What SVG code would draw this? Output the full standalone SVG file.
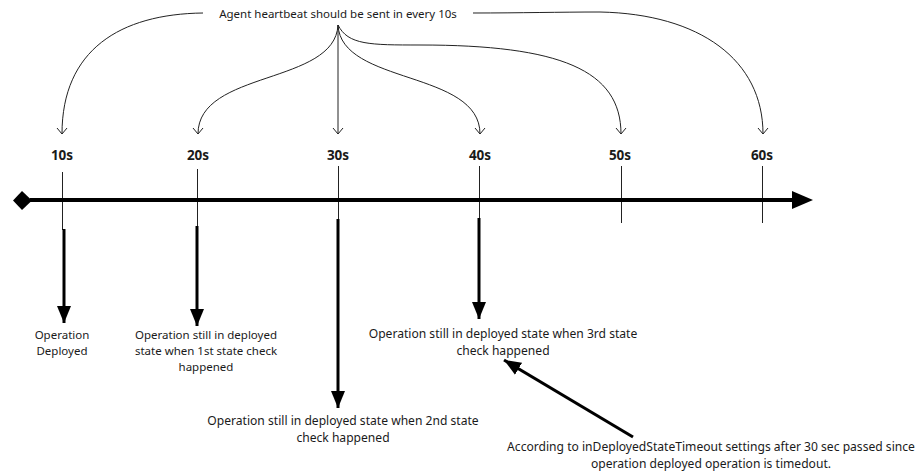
<svg xmlns="http://www.w3.org/2000/svg" width="921" height="474" viewBox="0 0 921 474">
<defs>
<style>
.t{font-family:"Noto Sans","Open Sans",sans-serif;font-size:11.5px;fill:#1a1a1a;text-anchor:middle}
.l{font-size:12.1px}
.b{font-family:"Noto Sans","Open Sans",sans-serif;font-size:13.5px;font-weight:bold;fill:#1a1a1a;text-anchor:middle}
.thin{stroke:#222;stroke-width:1;fill:none}
.curve{stroke:#222;stroke-width:1;fill:none;marker-end:url(#open)}
.thick{stroke:#000;stroke-width:3;fill:none;marker-end:url(#solid)}
</style>
<marker id="open" viewBox="0 0 8 12" refX="7" refY="6" markerWidth="8" markerHeight="12" markerUnits="userSpaceOnUse" orient="auto">
<path d="M1,1 L7,6 L1,11" fill="none" stroke="#222" stroke-width="1"/>
</marker>
<marker id="solid" viewBox="0 0 17 16" refX="17" refY="8" markerWidth="17" markerHeight="16" markerUnits="userSpaceOnUse" orient="auto">
<path d="M0,1 L17,8 L0,15 Z" fill="#000"/>
</marker>
</defs>
<rect width="921" height="474" fill="#fff"/>
<g id="connectors">
<path class="curve" d="M203,13 C120,14 62,50 62,134"/>
<path class="curve" d="M338,25 C335,85 198,70 198,134"/>
<path class="curve" d="M338,25 L338,134"/>
<path class="curve" d="M338,25 C341,85 480,70 480,134"/>
<path class="curve" d="M338,25 C348,45 370,45 420,45 C560,45 621,70 621,134"/>
<path class="curve" d="M473,13 C520,13 560,12 600,12 C700,14 763,60 763,134"/>
<line class="thin" x1="62.5" y1="172" x2="62.5" y2="230"/>
<line class="thin" x1="197.5" y1="169" x2="197.5" y2="227"/>
<line class="thin" x1="338.5" y1="166" x2="338.5" y2="220"/>
<line class="thin" x1="479.5" y1="166" x2="479.5" y2="219"/>
<line class="thin" x1="621.5" y1="166" x2="621.5" y2="223"/>
<line class="thin" x1="762.5" y1="166" x2="762.5" y2="223"/>
<line class="thick" x1="64" y1="229" x2="64" y2="323"/>
<line class="thick" x1="197" y1="226" x2="197" y2="326"/>
<line class="thick" x1="338" y1="219" x2="338" y2="408"/>
<line class="thick" x1="479" y1="218" x2="479" y2="319"/>
<line class="thick" x1="633" y1="437" x2="504" y2="360"/>
</g>
<g id="timeline">
<line x1="30" y1="200" x2="796" y2="200" stroke="#000" stroke-width="4"/>
<path d="M792,191 L813,200 L792,209 Z" fill="#000"/>
<path d="M22,191 L32,200.5 L22,210 L13,200.5 Z" fill="#000"/>
</g>
<g id="heartbeat"><text class="t" x="338" y="18">Agent heartbeat should be sent in every 10s</text></g>
<g id="t10"><text class="b" x="62" y="160">10s</text></g>
<g id="t20"><text class="b" x="198" y="160">20s</text></g>
<g id="t30"><text class="b" x="338" y="160">30s</text></g>
<g id="t40"><text class="b" x="480" y="160">40s</text></g>
<g id="t50"><text class="b" x="620" y="160">50s</text></g>
<g id="t60"><text class="b" x="762" y="160">60s</text></g>
<g id="n10"><text class="t" x="62" y="339">Operation</text><text class="t" x="62" y="355">Deployed</text></g>
<g id="n20"><text class="t" x="206" y="339">Operation still in deployed</text><text class="t" x="206" y="355">state when 1st state check</text><text class="t" x="206" y="371">happened</text></g>
<g id="n30"><text class="t l" x="343" y="425">Operation still in deployed state when 2nd state</text><text class="t l" x="343" y="442">check happened</text></g>
<g id="n40"><text class="t l" x="503" y="338">Operation still in deployed state when 3rd state</text><text class="t l" x="503" y="355">check happened</text></g>
<g id="timeout"><text class="t l" x="711" y="451">According to inDeployedStateTimeout settings after 30 sec passed since</text><text class="t l" x="711" y="468">operation deployed operation is timedout.</text></g>
</svg>
